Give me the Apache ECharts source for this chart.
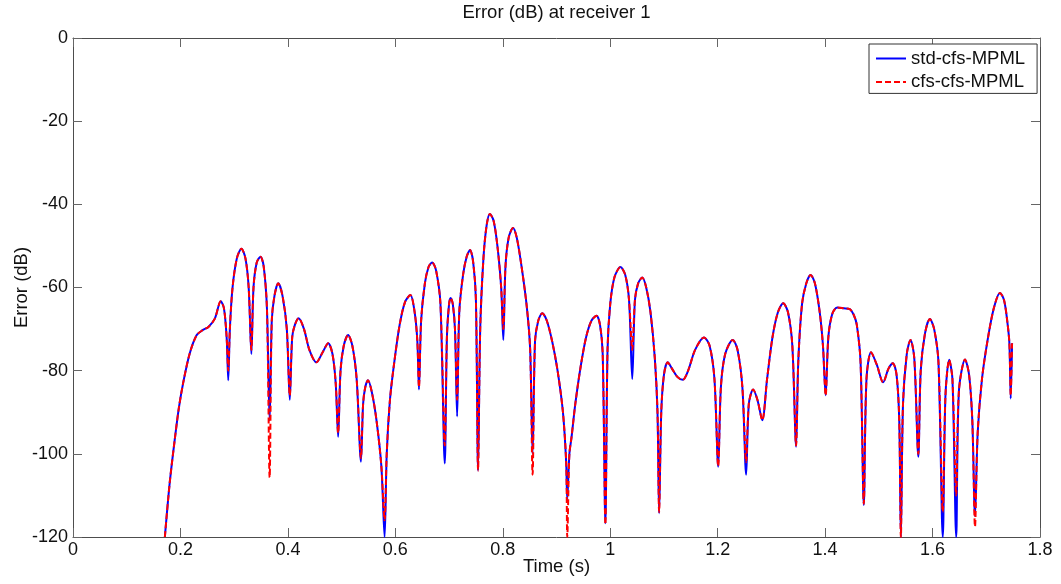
<!DOCTYPE html>
<html>
<head>
<meta charset="utf-8">
<title>Error (dB) at receiver 1</title>
<script src="https://cdn.jsdelivr.net/npm/echarts@6/dist/echarts.min.js"></script>
<style>
  html, body { margin: 0; padding: 0; background: #fff; }
  #chart { width: 1061px; height: 584px; }
</style>
</head>
<body>
<div id="chart"></div>
<script>
// Sample times (s)
const timeS = [
  0.171, 0.180, 0.189, 0.197, 0.205, 0.217, 0.230, 0.242, 0.252, 0.264,
  0.275, 0.281, 0.286, 0.289, 0.292, 0.297, 0.305, 0.3135, 0.321, 0.327,
  0.332, 0.336, 0.342, 0.349, 0.355, 0.361, 0.366, 0.370, 0.375, 0.382,
  0.390, 0.398, 0.4035, 0.408, 0.413, 0.420, 0.430, 0.440, 0.453, 0.465,
  0.475, 0.483, 0.489, 0.4935, 0.498, 0.504, 0.512, 0.520, 0.528, 0.536,
  0.540, 0.544, 0.549, 0.556, 0.565, 0.574, 0.580, 0.584, 0.590, 0.598,
  0.608, 0.618, 0.628, 0.636, 0.641, 0.644, 0.648, 0.655, 0.662, 0.6685,
  0.676, 0.684, 0.692, 0.696, 0.700, 0.703, 0.707, 0.711, 0.715, 0.719,
  0.726, 0.733, 0.739, 0.745, 0.750, 0.754, 0.758, 0.764, 0.770, 0.776,
  0.783, 0.790, 0.797, 0.801, 0.805, 0.811, 0.819, 0.826, 0.835, 0.845,
  0.851, 0.8555, 0.860, 0.866, 0.8735, 0.882, 0.892, 0.902, 0.912, 0.918,
  0.920, 0.924, 0.928, 0.935, 0.945, 0.955, 0.965, 0.9745, 0.981, 0.986,
  0.991, 0.995, 1.000, 1.008, 1.019, 1.028, 1.035, 1.041, 1.046, 1.052,
  1.0595, 1.067, 1.075, 1.083, 1.088, 1.091, 1.095, 1.100, 1.107, 1.115,
  1.125, 1.135, 1.145, 1.158, 1.1745, 1.185, 1.194, 1.201, 1.206, 1.214,
  1.228, 1.237, 1.246, 1.253, 1.258, 1.266, 1.274, 1.283, 1.292, 1.302,
  1.312, 1.322, 1.331, 1.339, 1.346, 1.350, 1.357, 1.365, 1.373, 1.381,
  1.390, 1.396, 1.401, 1.406, 1.413, 1.4225, 1.435, 1.446, 1.453, 1.459,
  1.466, 1.472, 1.477, 1.4855, 1.496, 1.508, 1.518, 1.526, 1.533, 1.538,
  1.541, 1.545, 1.552, 1.559, 1.566, 1.5735, 1.578, 1.586, 1.595, 1.603,
  1.611, 1.619, 1.624, 1.631, 1.637, 1.644, 1.649, 1.6605, 1.668, 1.674,
  1.679, 1.684, 1.692, 1.702, 1.714, 1.7255, 1.733, 1.739, 1.743, 1.7455,
  1.748
];

// Error of the std-cfs-MPML solution (dB)
const stdCfsErr = [
  -120, -107, -97, -89, -83, -76, -71.5, -70.2, -69.5, -67.5,
  -63.3, -65, -72, -82.3, -70, -60, -53, -50.7, -53, -60,
  -76, -60, -54, -52.6, -55, -65, -92, -68, -62, -59,
  -62, -70, -87, -72, -69, -67.4, -70, -75, -78, -75.5,
  -73.4, -76, -83, -95.9, -80, -74, -71.4, -74, -82, -101.9,
  -88, -84, -82.3, -85, -92, -103, -120, -100, -87, -78,
  -69, -63.5, -61.8, -66, -73, -84.5, -68, -59, -55, -54,
  -56, -64, -102.3, -72, -64, -62.5, -64, -70, -91, -66,
  -57, -52.5, -51, -54, -63, -104, -70, -53, -45, -42.3,
  -44, -50, -60, -72.6, -55, -48, -45.7, -48, -55, -65,
  -75, -100, -73, -68, -66.2, -68, -73, -80, -90, -102,
  -111, -100, -96, -88, -79, -72, -68, -66.8, -69, -76,
  -116.7, -75, -64, -57.5, -55.1, -57, -63, -82, -63, -59,
  -57.6, -60, -66, -77, -90, -114.3, -90, -81, -78, -79.5,
  -81.5, -82.2, -80, -75, -72, -74, -82, -103.1, -84, -76,
  -72.6, -75, -84, -105, -88, -84.5, -87, -91.9, -82, -72,
  -66, -63.8, -66, -74, -98.3, -78, -64, -59, -57, -59,
  -66, -74, -85.9, -72, -66.5, -64.8, -65, -65.2, -66.5, -69,
  -78, -112.3, -82, -75.6, -78.5, -82.8, -79.5, -78.2, -81, -92,
  -120, -88, -76, -72.6, -77, -100.7, -80, -71, -67.6, -70,
  -78, -120, -86, -77.4, -82, -120, -85, -77.3, -81, -92,
  -115, -95, -82, -73, -65, -61.3, -63, -68, -73.4, -86.7,
  -73.4
];

// Error of the cfs-cfs-MPML solution (dB)
const cfsCfsErr = [
  -120, -107, -97, -89, -83, -76, -71.5, -70.2, -69.5, -67.5,
  -63.3, -65, -72, -80, -70, -60, -53, -50.7, -53, -60,
  -75, -60, -54, -52.6, -55, -65, -105.7, -68, -62, -59,
  -62, -70, -86, -72, -69, -67.4, -70, -75, -78, -75.5,
  -73.4, -76, -83, -95, -80, -74, -71.4, -74, -82, -101,
  -88, -84, -82.3, -85, -92, -103, -116, -100, -87, -78,
  -69, -63.5, -61.8, -66, -73, -84, -68, -59, -55, -54,
  -56, -64, -98, -72, -64, -62.5, -64, -70, -87, -66,
  -57, -52.5, -51, -54, -63, -104, -70, -53, -45, -42.3,
  -44, -50, -60, -70, -55, -48, -45.7, -48, -55, -65,
  -75, -105, -73, -68, -66.2, -68, -73, -80, -90, -102,
  -120, -100, -96, -88, -79, -72, -68, -66.8, -69, -76,
  -117, -75, -64, -57.5, -55.1, -57, -63, -75, -63, -59,
  -57.6, -60, -66, -77, -90, -114, -90, -81, -78, -79.5,
  -81.5, -82.2, -80, -75, -72, -74, -82, -103, -84, -76,
  -72.6, -75, -84, -102, -88, -84.5, -87, -91.9, -82, -72,
  -66, -63.8, -66, -74, -98, -78, -64, -59, -57, -59,
  -66, -74, -86, -72, -66.5, -64.8, -65, -65.2, -66.5, -69,
  -78, -112, -82, -75.6, -78.5, -82.8, -79.5, -78.2, -81, -92,
  -120, -88, -76, -72.6, -77, -100, -80, -71, -67.6, -70,
  -78, -114, -86, -77.4, -82, -110, -85, -77.3, -81, -92,
  -117.5, -95, -82, -73, -65, -61.3, -63, -68, -73.4, -86,
  -73.4
];

const seriesNames = ['std-cfs-MPML', 'cfs-cfs-MPML'];
const xTicks = [0, 0.2, 0.4, 0.6, 0.8, 1, 1.2, 1.4, 1.6, 1.8];
const yTicks = [-120, -100, -80, -60, -40, -20, 0];

const FONT = "'Liberation Sans', Arial, sans-serif";
const AXIS_COLOR = '#4d4d4d';
const TEXT_COLOR = '#111';

const pairs = (vals) => timeS.map((t, i) => [t, vals[i]]);

const chart = echarts.init(document.getElementById('chart'), null, { renderer: 'canvas' });

const xBase = {
  type: 'value',
  min: xTicks[0],
  max: xTicks[xTicks.length - 1],
  interval: 0.2,
  splitLine: { show: false },
  axisLine: { show: true, onZero: false, lineStyle: { color: AXIS_COLOR, width: 1 } },
  axisTick: { show: true, inside: true, length: 9, lineStyle: { color: '#666', width: 1 } }
};
const yBase = {
  type: 'value',
  min: yTicks[0],
  max: yTicks[yTicks.length - 1],
  interval: 20,
  splitLine: { show: false },
  axisLine: { show: true, onZero: false, lineStyle: { color: AXIS_COLOR, width: 1 } },
  axisTick: { show: true, inside: true, length: 9, lineStyle: { color: '#666', width: 1 } }
};

chart.setOption({
  animation: false,
  backgroundColor: '#fff',
  textStyle: { fontFamily: FONT },
  title: {
    text: 'Error (dB) at receiver 1',
    left: 556.5,
    top: 3,
    textAlign: 'center',
    padding: 0,
    textStyle: { fontFamily: FONT, fontSize: 18.5, fontWeight: 'normal', color: TEXT_COLOR }
  },
  grid: {
    left: 73, top: 38, width: 967, height: 499,
    containLabel: false,
    outerBoundsMode: 'none'
  },
  legend: {
    data: seriesNames,
    orient: 'vertical',
    left: 869,
    top: 44,
    padding: [5, 12, 2, 6],
    itemGap: 4.4,
    itemWidth: 30,
    itemHeight: 14,
    backgroundColor: '#fff',
    borderColor: '#333',
    borderWidth: 1,
    borderRadius: 0,
    itemStyle: { opacity: 0 },
    textStyle: { fontFamily: FONT, fontSize: 18.5, color: TEXT_COLOR, padding: [0, 0, 0, 0] }
  },
  xAxis: [
    Object.assign({}, xBase, {
      position: 'bottom',
      name: 'Time (s)',
      nameLocation: 'middle',
      nameGap: 20,
      nameMoveOverlap: false,
      nameTextStyle: { fontFamily: FONT, fontSize: 18.5, color: TEXT_COLOR },
      axisLabel: {
        show: true, margin: 4, fontFamily: FONT, fontSize: 18, color: TEXT_COLOR,
        formatter: (v) => String(+v.toFixed(1))
      }
    }),
    Object.assign({}, xBase, { position: 'top', axisLabel: { show: false } })
  ],
  yAxis: [
    Object.assign({}, yBase, {
      position: 'left',
      name: 'Error (dB)',
      nameLocation: 'middle',
      nameGap: 42,
      nameRotate: 90,
      nameMoveOverlap: false,
      nameTextStyle: { fontFamily: FONT, fontSize: 18.5, color: TEXT_COLOR },
      axisLabel: {
        show: true, margin: 5, fontFamily: FONT, fontSize: 18, color: TEXT_COLOR,
        formatter: (v) => String(Math.round(v))
      }
    }),
    Object.assign({}, yBase, { position: 'right', axisLabel: { show: false } })
  ],
  series: [
    {
      name: seriesNames[0],
      type: 'line',
      xAxisIndex: 0,
      yAxisIndex: 0,
      data: pairs(stdCfsErr),
      showSymbol: false,
      symbol: 'none',
      smooth: 0.3,
      clip: true,
      z: 2,
      lineStyle: { color: '#0000ff', width: 2, type: 'solid' },
      itemStyle: { color: '#0000ff' }
    },
    {
      name: seriesNames[1],
      type: 'line',
      xAxisIndex: 0,
      yAxisIndex: 0,
      data: pairs(cfsCfsErr),
      showSymbol: false,
      symbol: 'none',
      smooth: 0.3,
      clip: true,
      z: 3,
      lineStyle: { color: '#ff0000', width: 2, type: [6, 3] },
      itemStyle: { color: '#ff0000' }
    }
  ]
});
</script>
</body>
</html>
